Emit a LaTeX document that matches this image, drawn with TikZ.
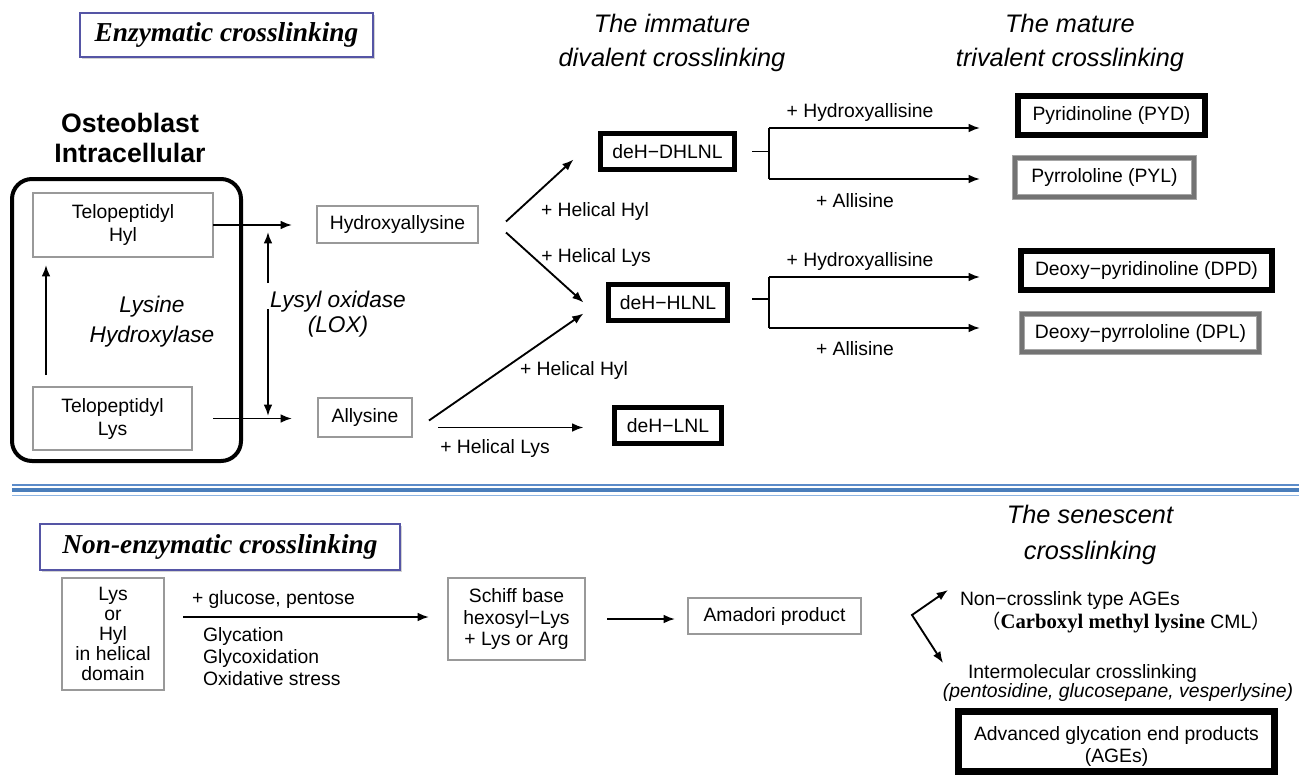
\documentclass[tikz,border=0pt]{standalone}
\usepackage{fontspec}
\setmainfont{Liberation Sans}
\newfontfamily\serifb{Liberation Serif}
\newfontfamily\cjk{Noto Sans CJK JP}
\usetikzlibrary{arrows.meta,calc,fit,shadows}
\definecolor{ttlblue}{RGB}{85,85,165}
\definecolor{sepa}{RGB}{91,139,201}
\definecolor{sepb}{RGB}{74,126,187}
\definecolor{sepc}{RGB}{141,180,226}
\begin{document}
\begin{tikzpicture}[x=0.75pt,y=-0.75pt,
 every node/.style={inner sep=0pt,outer sep=0pt},
 lbl/.style={font=\fontsize{14.5}{17}\selectfont},
 txt/.style={font=\fontsize{14.5}{17}\selectfont,align=center},
 bx/.style={fill=white},
 gbox/.style={bx,draw=black!40,line width=0.9pt},
 tbox/.style={bx,draw=black,line width=3.75pt},
 tbbox/.style={bx,draw=black,line width=4.5pt},
 dbox/.style={bx,draw=black!35,line width=0.75pt,double=black!55,double distance=3pt},
 ln/.style={line width=1.4pt},
 arr/.style={ln,-{Latex[length=8.5pt,width=6.5pt]}},
 darr/.style={ln,{Latex[length=8.5pt,width=6.5pt]}-{Latex[length=8.5pt,width=6.5pt]}},
 ttl/.style={draw=ttlblue,line width=0.9pt,fill=white,drop shadow={shadow xshift=1.5pt,shadow yshift=-1.5pt,fill=black!35,opacity=0.5}},
 ttlt/.style={font=\serifb\bfseries\itshape\fontsize{20.5}{24}\selectfont},
 hdr/.style={font=\itshape\fontsize{19}{25}\selectfont,align=center},
 enz/.style={font=\itshape\fontsize{17}{22.5}\selectfont,align=center},
]
\useasboundingbox (0,0) rectangle (1299,775);
\fill[white] (0,0) rectangle (1299,775);

% ---------- top section ----------
\node[ttl, fit={(80,13) (373,57)}] (t1) {};
\node[ttlt] (t1t) at (t1) {Enzymatic crosslinking};
\node[hdr] (imm) at (672,43) {The immature\\divalent crosslinking};
\node[hdr] (mat) at (1070,43) {The mature\\trivalent crosslinking};

\node[font=\bfseries\fontsize{20}{23}\selectfont, align=center] (ost) at (130,138) {Osteoblast\\Intracellular};
\node[draw=black, line width=3pt, rounded corners=15pt, fit={(12,179) (241,461)}] (cell) {};
\node[gbox, fit={(33,193) (213,257)}] (telhyl) {};
\node[txt, font=\fontsize{14.5}{17.25}\selectfont] (telhylt) at (telhyl) {Telopeptidyl\\Hyl};
\node[gbox, fit={(33,387) (192,450)}] (tellys) {};
\node[txt, font=\fontsize{14.5}{17.25}\selectfont] (tellyst) at (tellys) {Telopeptidyl\\Lys};
\draw[arr] ($(tellys.north west)+(13,-12)$) -- ($(telhyl.south west)+(13,8)$);
\node[enz] (lyh) at (152,322) {Lysine\\Hydroxylase};

\node[gbox, fit={(317,206) (478,243)}] (hyd) {};
\node[txt] (hydt) at (hyd) {Hydroxyallysine};
\node[gbox, fit={(318,398) (412,437)}] (ally) {};
\node[txt] (allyt) at (ally) {Allysine};
\draw[arr] (telhyl.east) -- ++(79,0);
\draw[arr] ($(tellys.east)+(21,0)$) -- ++(79,0);

\node[font=\itshape\fontsize{17}{19}\selectfont, align=center] (lox) at (338,314) {Lysyl oxidase\\(LOX)};
\coordinate (lxa) at (268,283);
\coordinate (lxb) at (268,232);
\coordinate (lxc) at (268,309);
\coordinate (lxd) at (268,416);
\draw[arr] (lxa) -- (lxb);
\draw[arr] (lxc) -- (lxd);

\node[tbox, fit={(600.5,133.5) (734.5,169.5)}] (dhlnl) {};
\node[txt] (dhlnlt) at (dhlnl) {deH−DHLNL};
\node[tbox, fit={(608.5,284.5) (727.5,320.5)}] (hlnl) {};
\node[txt] (hlnlt) at (hlnl) {deH−HLNL};
\node[tbox, fit={(614.5,407.5) (721.5,443.5)}] (lnl) {};
\node[txt] (lnlt) at (lnl) {deH−LNL};

\draw[arr] ($(hyd.east)+(28,-3)$) -- ($(dhlnl.west)+(-27,8)$);
\draw[arr] ($(hyd.east)+(28,8)$) -- ($(hlnl.west)+(-25,0)$);
\draw[arr] ($(ally.east)+(17,3)$) -- ($(hlnl.west)+(-25,11)$);
\draw[arr] ($(ally.east)+(26,10)$) -- ($(lnl.west)+(-31,2)$);

\node[lbl] (h1) at (595,211) {+ Helical Hyl};
\node[lbl] (h2) at (596,257) {+ Helical Lys};
\node[lbl] (h3) at (574,370) {+ Helical Hyl};
\node[lbl] (h4) at (495,448) {+ Helical Lys};

\node[tbbox, fit={(1018,96) (1205,135)}] (pyd) {};
\node[txt] (pydt) at (pyd) {Pyridinoline (PYD)};
\node[dbox, fit={(1015,158) (1194,197)}] (pyl) {};
\node[txt] (pylt) at (pyl) {Pyrrololine (PYL)};
\node[tbbox, fit={(1021,251) (1272,290)}] (dpd) {};
\node[txt] (dpdt) at (dpd) {Deoxy−pyridinoline (DPD)};
\node[dbox, fit={(1022,314) (1259,352)}] (dpl) {};
\node[txt] (dplt) at (dpl) {Deoxy−pyrrololine (DPL)};

% bracket 1
\coordinate (k1) at (769,151.5);
\coordinate (k1t) at (769,128);
\coordinate (k1b) at (769,179);
\coordinate (e1t) at (980,128);
\coordinate (e1b) at (980,179);
\draw[ln] ($(dhlnl.east)+(17.5,0)$) -- (k1);
\draw[ln] (k1t) -- (k1b);
\draw[arr] (k1t) -- (e1t);
\draw[arr] (k1b) -- (e1b);
% bracket 2
\coordinate (k2) at (769,299);
\coordinate (k2t) at (769,277);
\coordinate (k2b) at (769,328);
\coordinate (e2t) at (980,277);
\coordinate (e2b) at (980,328);
\draw[ln] ($(hlnl.east)+(24.5,-3.5)$) -- (k2);
\draw[ln] (k2t) -- (k2b);
\draw[arr] (k2t) -- (e2t);
\draw[arr] (k2b) -- (e2b);

\node[lbl] (hx1) at (860,112) {+ Hydroxyallisine};
\node[lbl] (al1) at (855,201) {+ Allisine};
\node[lbl] (hx2) at (860,261) {+ Hydroxyallisine};
\node[lbl] (al2) at (855,349) {+ Allisine};

% ---------- separator ----------
\draw[sepa, line width=1.1pt] (12,485) -- (1299,485);
\draw[sepb, line width=3pt] (12,490) -- (1299,490);
\draw[sepc, line width=1.1pt] (12,495.5) -- (1299,495.5);

% ---------- bottom section ----------
\node[ttl, fit={(40,524) (400,570)}] (t2) {};
\node[ttlt] (t2t) at (t2) {Non-enzymatic crosslinking};
\node[hdr, font=\itshape\fontsize{19}{27}\selectfont] (sen) at (1090,535) {The senescent\\crosslinking};

\node[gbox, fit={(62,578) (164,690)}] (lys) {};
\node[txt, font=\fontsize{14.5}{15}\selectfont] (lyst) at (lys) {Lys\\or\\Hyl\\in helical\\domain};
\draw[arr] ($(lys.east)+(19,-17)$) -- ++(246,0);
\node[lbl, anchor=west] (gp) at (192,599) {+ glucose, pentose};
\node[lbl, anchor=west, align=left, font=\fontsize{14.5}{16.5}\selectfont] (gly) at (203,657) {Glycation\\Glycoxidation\\Oxidative stress};

\node[gbox, fit={(448,578) (585,660)}] (sch) {};
\node[txt, font=\fontsize{14.5}{16}\selectfont] (scht) at (sch) {Schiff base\\hexosyl−Lys\\+ Lys or Arg};
\draw[arr] ($(sch.east)+(22,0)$) -- ++(68,0);
\node[gbox, fit={(688,598) (861,634)}] (ama) {};
\node[txt] (amat) at (ama) {Amadori product};

\coordinate (bn) at (948,590);
\coordinate (bc) at (912,615);
\coordinate (bs) at (943,663);
\draw[darr] (bn) -- (bc) -- (bs);

\node[lbl, anchor=west] (ncl) at (960,600) {Non−crosslink type AGEs};
\node[lbl] (cml) at (1126,622) {{\cjk （}{\serifb\bfseries\fontsize{15.5}{17}\selectfont Carboxyl methyl lysine} CML{\cjk ）}};
\node[lbl, anchor=west] (iml) at (968,673) {Intermolecular crosslinking};
\node[font=\itshape\fontsize{14.5}{17}\selectfont] (pgv) at (1118,692) {(pentosidine, glucosepane, vesperlysine)};
\node[bx, draw=black, line width=5.25pt, fit={(958.5,711.5) (1274.5,771.5)}] (age) {};
\node[txt, font=\fontsize{14.5}{16.5}\selectfont] (aget) at (1116.5,746) {Advanced glycation end products\\(AGEs)};
\end{tikzpicture}
\end{document}
